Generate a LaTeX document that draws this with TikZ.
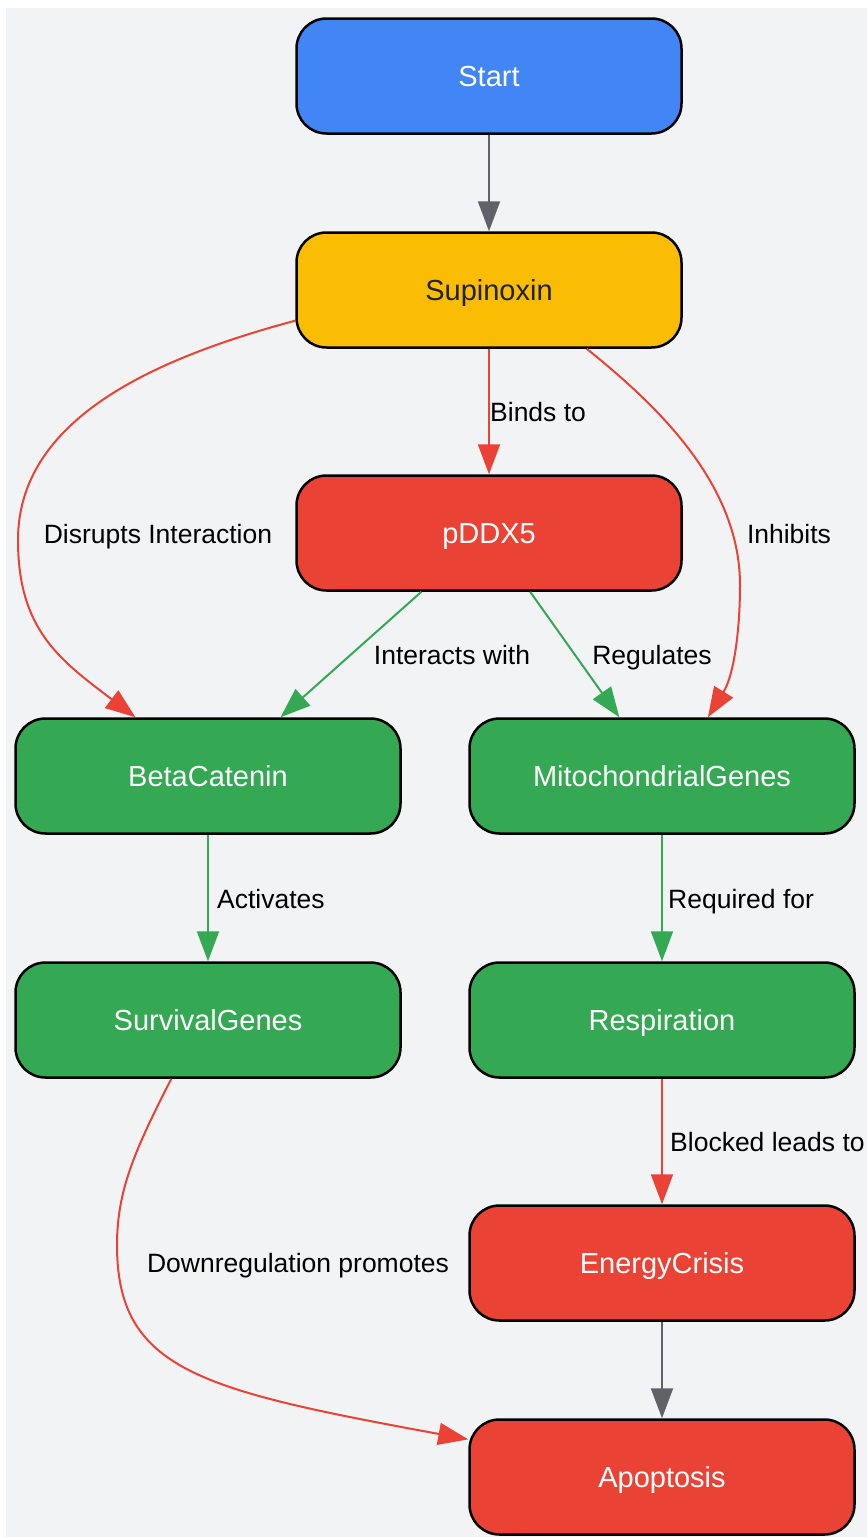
\documentclass[tikz,border=0pt]{standalone}
\usepackage{fontspec}
\setmainfont{Liberation Sans}
\usetikzlibrary{arrows.meta}
\definecolor{gblue}{HTML}{4285F4}
\definecolor{gyellow}{HTML}{FBBC04}
\definecolor{gred}{HTML}{EA4335}
\definecolor{ggreen}{HTML}{34A853}
\definecolor{ggray}{HTML}{5F6368}
\definecolor{gbg}{HTML}{F1F3F4}
\definecolor{gdark}{HTML}{202124}

\begin{document}
\begin{tikzpicture}[x=1pt,y=-1pt]
  \tikzset{box/.style={draw=black, line width=2.5pt, rounded corners=30pt,
      minimum width=385pt, minimum height=115pt, inner sep=0pt, text=white,
      text height=21pt, text depth=0pt, font=\fontsize{29}{34}\selectfont},
    edge/.style={line width=2pt, -{Triangle[length=30pt,width=22pt]}},
    lbl/.style={inner sep=0pt, text=black, text height=19pt, text depth=0pt,
      font=\fontsize{26.5}{31}\selectfont}}
  \useasboundingbox (0,0) rectangle (867,1537);
  \fill[gbg] (6,8) rectangle (867,1537);

  \node[box, fill=gblue] (start) at (489,76) {Start};
  \node[box, fill=gyellow, text=gdark] (sup) at (489,290) {Supinoxin};
  \node[box, fill=gred] (pd) at (489,533) {pDDX5};
  \node[box, fill=ggreen] (beta) at (208,776) {BetaCatenin};
  \node[box, fill=ggreen] (mito) at (662,776) {MitochondrialGenes};
  \node[box, fill=ggreen] (surv) at (208,1020) {SurvivalGenes};
  \node[box, fill=ggreen] (resp) at (662,1020) {Respiration};
  \node[box, fill=gred] (energy) at (662,1263) {EnergyCrisis};
  \node[box, fill=gred] (apo) at (662,1477) {Apoptosis};

  \draw[edge, ggray] (start) -- (sup);
  \draw[edge, gred] (sup) -- (pd);
  \draw[edge, gred] (sup.189) .. controls (152,359) and (18,420) .. (18,540)
    .. controls (18,630) and (60,660) .. (beta.141);
  \draw[edge, gred] (sup.329) .. controls (650,400) and (740,480) .. (740,585)
    .. controls (740,630) and (734,675) .. (mito.52);
  \draw[edge, ggreen] (pd.221) -- (beta.39);
  \draw[edge, ggreen] (pd.305) -- (mito.126);
  \draw[edge, ggreen] (beta) -- (surv);
  \draw[edge, ggreen] (mito) -- (resp);
  \draw[edge, gred] (resp) -- (energy);
  \draw[edge, ggray] (energy) -- (apo);
  \draw[edge, gred] (surv.238) .. controls (135,1150) and (117,1190) .. (117,1245)
    .. controls (117,1370) and (200,1390) .. (apo.169);

  \node[lbl, anchor=west] (lbinds) at (490,412) {Binds to};
  \node[lbl] (ldisrupt) at (158,534) {Disrupts Interaction};
  \node[lbl] (linhib) at (789,534) {Inhibits};
  \node[lbl] (linter) at (452,655) {Interacts with};
  \node[lbl] (lreg) at (652,655) {Regulates};
  \node[lbl, anchor=west] (lact) at (217,899) {Activates};
  \node[lbl, anchor=west] (lreq) at (668,899) {Required for};
  \node[lbl, anchor=west] (lblock) at (670,1142) {Blocked leads to};
  \node[lbl] (ldown) at (298,1263) {Downregulation promotes};
\end{tikzpicture}
\end{document}
